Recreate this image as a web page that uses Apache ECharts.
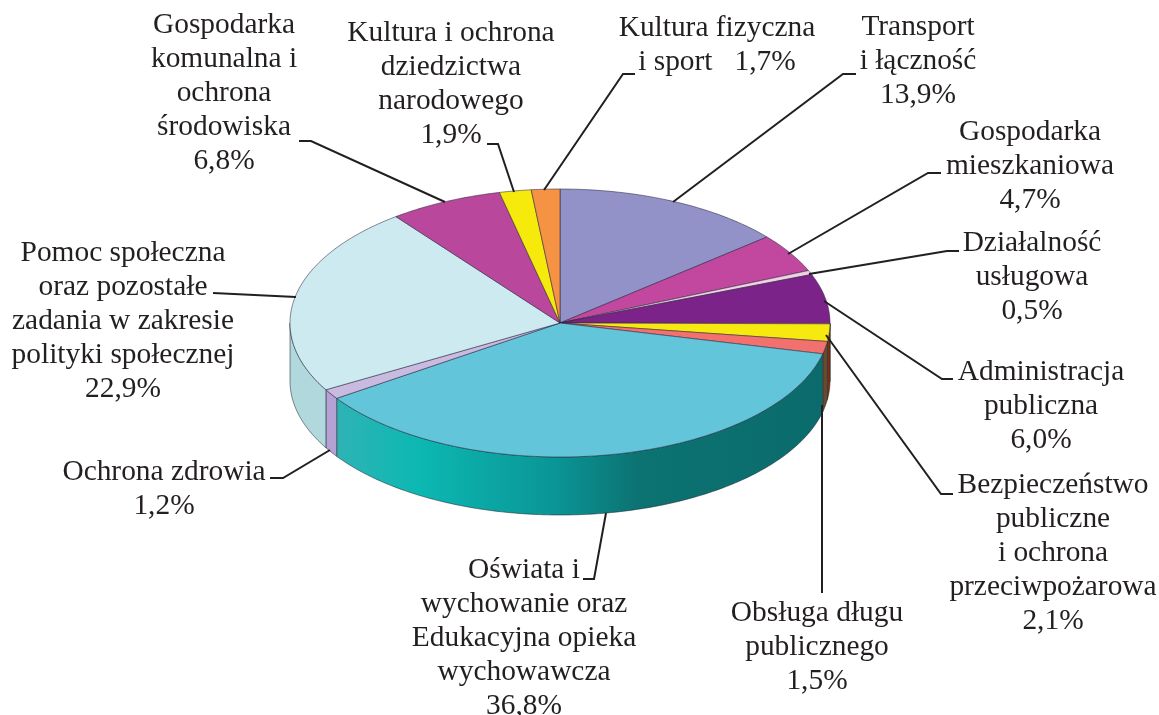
<!DOCTYPE html>
<html>
<head>
<meta charset="utf-8">
<style>html,body{margin:0;padding:0;background:#fff}#c{width:1159px;height:715px}</style>
<script src="https://cdn.jsdelivr.net/npm/echarts@6/dist/echarts.min.js"></script>
</head>
<body>
<div id="c"></div>
<script>
// Data, clockwise from 12 o'clock
const categories = [
  'Transport\ni łączność',
  'Gospodarka\nmieszkaniowa',
  'Działalność\nusługowa',
  'Administracja\npubliczna',
  'Bezpieczeństwo\npubliczne\ni ochrona\nprzeciwpożarowa',
  'Obsługa długu\npublicznego',
  'Oświata i\nwychowanie oraz\nEdukacyjna opieka\nwychowawcza',
  'Ochrona zdrowia',
  'Pomoc społeczna\noraz pozostałe\nzadania w zakresie\npolityki społecznej',
  'Gospodarka\nkomunalna i\nochrona\nśrodowiska',
  'Kultura i ochrona\ndziedzictwa\nnarodowego',
  'Kultura fizyczna\ni sport'
];
const values = [13.9, 4.7, 0.5, 6.0, 2.1, 1.5, 36.8, 1.2, 22.9, 6.8, 1.9, 1.7];
const topColors = ['#9292c9','#c2479f','#f3cfe4','#7c2389','#f6e90f','#f2716f','#63c5d9','#c9badf','#cdeaf1','#b9489d','#f6e90c','#f59243'];
const sideColors = ['#6c6c9c','#8e3070','#b89ab0','#5a1a60','#7d3010','#6b4a2c',null,'#b3a2d3','#b0d8dd','#8a3070','#a8a000','#b06020'];

// Layout
const CENTER = [560, 323], RX = 270, RY = 134, DEPTH = 58;
const FONT = '29.4px "Liberation Serif"', INK = '#231f20', LINE_H = 34;
const labelSep = ['\n','\n','\n','\n','\n','\n','\n','\n','\n','\n','\n','   '];
const labelAnchor = [[918,27],[1030,132],[1032,243],[1041,372],[1053,485],[817,613],[524,570],[164,472],[123,253],[224,25],[451,33],[717,28]];
const leaders = [
  [[856,74],[843,74],[673,202]],
  [[941,173],[928,173],[788,254]],
  [[959,251],[947,251],[809,274]],
  [[953,379],[942,379],[824,301]],
  [[953,494],[941,494],[826,335]],
  [[822,593],[822,405]],
  [[583,579],[594,579],[606,513]],
  [[270,478],[283,478],[330,450]],
  [[213,293],[296,297]],
  [[299,141],[311,141],[445,202]],
  [[487,144],[498,144],[514,192]],
  [[635,74],[623,74],[544,190]]
];

// Cumulative bounds of each slice on the angle axis
let running = 0;
const spans = values.map(v => { const s = [running, running + v]; running += v; return s; });
const sliceData = values.map((v, i) => [1, spans[i][0], spans[i][1], v]);
const squash = RY / RX, STEP = 0.25;

function projector(api) {
  const c = api.coord([0, 0]);
  return (r, a, dz) => {
    const p = api.coord([r, a]);
    return [p[0], c[1] + (p[1] - c[1]) * squash + (dz || 0)];
  };
}
function arc(a0, a1) {
  const out = [];
  for (let a = a0; a < a1; a += STEP) out.push(a);
  out.push(a1);
  return out;
}
const wallGradient = {
  type: 'linear', x: 0, y: 0, x2: 1, y2: 0,
  colorStops: [
    {offset: 0, color: '#2fb3b5'}, {offset: 0.17, color: '#0cb8b2'},
    {offset: 0.45, color: '#0a9596'}, {offset: 0.62, color: '#0c7272'},
    {offset: 1, color: '#0b6b6c'}
  ]
};
function renderWall(params, api) {
  const a0 = Math.max(api.value(1), 25), a1 = Math.min(api.value(2), 75);
  if (a1 <= a0) return {type: 'group', children: []};
  const P = projector(api), i = params.dataIndex;
  const angles = arc(a0, a1);
  const pts = angles.map(a => P(1, a, 0)).concat(angles.slice().reverse().map(a => P(1, a, DEPTH)));
  return {
    type: 'polygon', shape: {points: pts},
    style: {fill: sideColors[i] || wallGradient, stroke: 'rgba(30,40,50,0.6)', lineWidth: 0.9}
  };
}
function renderTop(params, api) {
  const P = projector(api), i = params.dataIndex;
  const pts = [P(0, 0, 0)].concat(arc(api.value(1), api.value(2)).map(a => P(1, a, 0)));
  return {
    type: 'polygon', shape: {points: pts},
    style: {fill: topColors[i], stroke: 'rgba(40,35,60,0.6)', lineWidth: 0.9}
  };
}
function renderLabel(params, api) {
  const i = params.dataIndex, a = labelAnchor[i];
  const pct = api.value(3).toFixed(1).replace('.', ',') + '%';
  return {
    type: 'group',
    children: [
      {type: 'polyline', shape: {points: leaders[i]}, style: {stroke: INK, lineWidth: 2, fill: null}},
      {type: 'text', style: {
        text: categories[i] + labelSep[i] + pct, x: a[0], y: a[1] - LINE_H / 2,
        align: 'center', verticalAlign: 'top', font: FONT, fill: INK, lineHeight: LINE_H
      }}
    ]
  };
}
const encode = {radius: 0, angle: 1};
const chart = echarts.init(document.getElementById('c'), null, {renderer: 'canvas'});
chart.setOption({
  animation: false,
  backgroundColor: '#fff',
  polar: {center: CENTER, radius: RX},
  angleAxis: {type: 'value', min: 0, max: 100, startAngle: 90, show: false},
  radiusAxis: {type: 'value', min: 0, max: 1, show: false},
  series: [
    {type: 'custom', name: 'boki', coordinateSystem: 'polar', data: sliceData, encode, renderItem: renderWall, z: 1, silent: true, clip: false},
    {type: 'custom', name: 'udział', coordinateSystem: 'polar', data: sliceData, encode, renderItem: renderTop, z: 2, silent: true, clip: false},
    {type: 'custom', name: 'etykiety', coordinateSystem: 'polar', data: sliceData, encode, renderItem: renderLabel, z: 3, silent: true, clip: false}
  ]
});
</script>
</body>
</html>
